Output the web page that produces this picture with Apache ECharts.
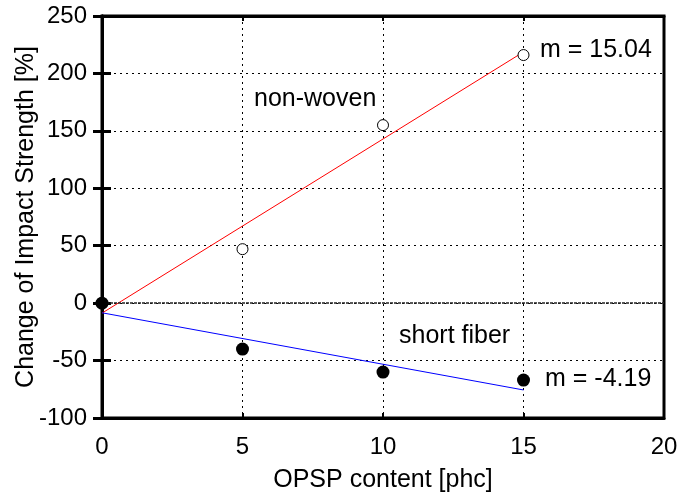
<!DOCTYPE html>
<html><head><meta charset="utf-8">
<script src="https://cdn.jsdelivr.net/npm/echarts@6/dist/echarts.min.js"></script>
<style>html,body{margin:0;padding:0;background:#fff}#c{width:680px;height:492px}</style>
</head><body><div id="c"></div>
<script>
const xValues = [0, 5, 10, 15];
const nonWoven = [0, 47, 155, 216];
const shortFiber = [0, -40, -60, -67];
const nonWovenFit = [[0, -8.7], [15, 218.7]];
const shortFiberFit = [[0, -8.4], [15, -75.6]];
const xTicks = [0, 5, 10, 15, 20];
const yTicks = [-100, -50, 0, 50, 100, 150, 200, 250];

const F = '"Liberation Sans", Arial, sans-serif';
const chart = echarts.init(document.getElementById('c'));
function axis(extra, tickLen, tickW, onZero) {
  return Object.assign({
    type: 'value',
    axisLine: {show: true, onZero: onZero, lineStyle: {color: '#000', width: 3}},
    axisTick: {show: true, inside: true, length: tickLen, lineStyle: {color: '#000', width: tickW}},
    splitLine: {show: false},
    axisLabel: {show: false}
  }, extra);
}
const grid = {color: '#000', type: [2, 4], width: 1};
chart.setOption({
  animation: false,
  backgroundColor: '#fff',
  grid: {left: 102, right: 16, top: 16, bottom: 74, outerBoundsMode: 'none', show: true, borderColor: '#000', borderWidth: 3, backgroundColor: 'transparent'},
  xAxis: [
    axis({min: 0, max: 20, interval: 5, position: 'bottom',
      name: 'OPSP content [phc]', nameLocation: 'middle', nameGap: 50, nameMoveOverlap: false,
      nameTextStyle: {fontFamily: F, fontSize: 25, color: '#000'},
      axisLabel: {show: true, fontFamily: F, fontSize: 24, color: '#000', margin: 17},
      splitLine: {show: true, lineStyle: grid}}, 5, 2, false),
    axis({min: 0, max: 20, interval: 5, position: 'top'}, 5, 2, false)
  ],
  yAxis: [
    axis({min: -100, max: 250, interval: 50, position: 'left',
      name: 'Change of Impact Strength [%]', nameLocation: 'middle', nameGap: 63, nameMoveOverlap: false,
      nameTextStyle: {fontFamily: F, fontSize: 25, color: '#000'},
      axisLabel: {show: true, fontFamily: F, fontSize: 24, color: '#000', margin: 15},
      splitLine: {show: true, lineStyle: grid}}, 9, 3, true),
    axis({min: -100, max: 250, interval: 50, position: 'right'}, 9, 3, true)
  ],
  series: [
    {type: 'line', data: nonWovenFit, symbol: 'none', lineStyle: {color: '#ff0000', width: 1}, z: 3,
     markLine: {silent: true, symbol: 'none', label: {show: false},
       lineStyle: {color: '#222', width: 1.5, type: [3, 1]}, data: [{yAxis: 0}]}},
    {type: 'line', data: shortFiberFit, symbol: 'none', lineStyle: {color: '#0000ff', width: 1}, z: 3},
    {type: 'scatter', data: xValues.map((x, i) => [x, nonWoven[i]]), symbol: 'circle', symbolSize: 11,
     itemStyle: {color: '#fff', borderColor: '#000', borderWidth: 1, opacity: 1}, z: 5},
    {type: 'scatter', data: xValues.map((x, i) => [x, shortFiber[i]]), symbol: 'circle', symbolSize: 13,
     itemStyle: {color: '#000', opacity: 1}, z: 5}
  ],
  graphic: [
    {type: 'text', left: 254, top: 87, style: {text: 'non-woven', font: '25px ' + F, fill: '#000'}},
    {type: 'text', left: 399, top: 324, style: {text: 'short fiber', font: '25px ' + F, fill: '#000'}},
    {type: 'text', left: 540, top: 38, style: {text: 'm = 15.04', font: '25px ' + F, fill: '#000'}},
    {type: 'text', left: 545, top: 367, style: {text: 'm = -4.19', font: '25px ' + F, fill: '#000'}}
  ]
});
</script></body></html>
